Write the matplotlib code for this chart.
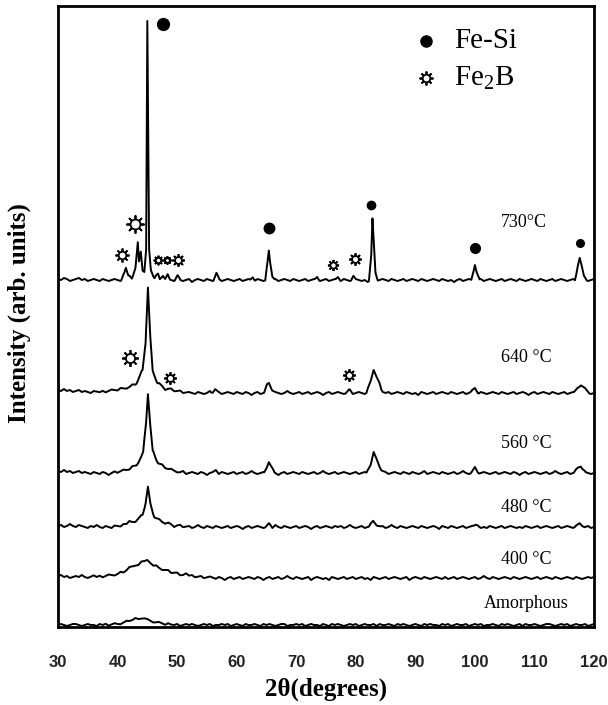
import numpy as np
import matplotlib
matplotlib.use("Agg")
import matplotlib.pyplot as plt

plt.rcParams['mathtext.fontset'] = 'custom'
plt.rcParams['mathtext.rm'] = 'Liberation Serif'

# 2theta sampling of the background noise, every 0.5 deg
grid = np.arange(30, 120.51, 0.5)

# baseline level of each trace (intensity, arb. units)
base_amorph = 2
base_400 = 49
base_480 = 100
base_560 = 154
base_640 = 234
base_730 = 347

# background noise (one value per grid point)
noise_amorph = [0,1,0,-1,0,1,1,0,-1,0,1,0,0,-1,1,0,1,-1,0,1,
                0,-1,0,1,0,0,1,-1,0,1,1,0,-1,0,1,0,-1,1,0,0,
                1,-1,0,1,0,1,0,-1,0,1,0,1,-1,0,0,1,0,1,-1,0,
                1,0,-1,1,0,0,1,0,-1,1,0,1,0,-1,0,1,1,-1,0,0,
                1,0,1,-1,0,1,0,0,-1,1,0,-1,1,0,1,0,-1,0,1,0,
                1,-1,0,1,0,0,1,-1,1,0,0,1,0,-1,1,0,1,0,-1,0,
                1,0,-1,1,0,1,0,0,-1,1,0,1,-1,0,1,0,0,1,-1,0,
                1,0,1,-1,0,0,1,0,-1,1,0,1,0,-1,0,1,-1,1,0,0,
                1,0,-1,0,1,1,0,-1,0,1,0,1,-1,0,1,0,0,1,-1,0,
                1,0]
noise_400 = [2,3,1,2,0,1,2,1,3,1,0,1,2,0,1,-1,0,1,0,-1,
             0,1,-1,0,2,1,0,-1,1,0,2,0,-1,1,0,-1,0,1,-1,0,
             1,-1,0,2,0,1,-1,0,1,-1,0,1,0,-1,1,0,-2,0,1,-1,
             0,1,-1,0,1,0,-1,1,0,-2,0,1,-1,0,1,-1,0,2,0,-1,
             1,0,-1,0,1,-2,0,1,0,-1,0,-2,1,0,-1,0,1,-1,0,1,
             -1,0,1,-1,0,-2,1,0,-1,0,1,-1,0,1,0,-1,0,1,-2,0,
             1,0,-1,1,0,-1,0,1,0,-1,1,-1,0,1,-1,0,1,0,-1,0,
             1,-1,0,2,0,-1,1,0,-1,0,1,0,-1,1,0,-1,0,1,0,-1,
             0,1,-1,0,1,0,-1,1,0,-1,0,1,0,-1,1,0,-1,0,1,0,
             1,0]
noise_480 = [1,2,0,1,3,1,0,2,1,0,-1,1,0,2,0,-1,1,0,-1,1,
             0,-1,1,0,2,0,-1,0,1,-1,0,2,-1,0,1,0,-1,1,0,-2,
             0,1,-1,0,1,-1,0,2,0,-1,1,0,-1,1,0,-1,0,1,-1,0,
             1,0,-2,0,1,-1,0,1,0,-1,0,1,-1,2,0,-1,1,0,-1,0,
             1,-1,0,1,0,-2,0,1,-1,0,1,0,-1,1,0,1,-1,0,2,0,
             -1,0,1,-1,0,1,0,-1,0,1,-1,0,2,0,-1,1,0,-1,0,1,
             0,-1,1,0,-1,0,1,0,-2,1,0,-1,1,0,-1,0,1,-1,0,1,
             0,1,-1,0,-1,1,0,-1,0,1,-1,0,1,0,-1,0,-1,1,0,-1,
             0,1,-1,0,1,0,-1,0,1,-1,0,1,0,-1,1,0,-1,0,1,-1,
             0,1]
noise_560 = [2,1,3,1,2,0,1,2,0,1,0,-1,1,0,-1,1,0,-2,0,1,
             -1,0,1,0,-1,1,0,-1,0,2,0,-1,1,-1,0,1,-1,0,1,0,
             -1,0,2,-1,0,1,0,-1,1,0,-2,0,1,0,-1,1,0,-1,0,1,
             -1,0,1,-1,0,2,0,-1,0,1,-1,0,1,0,-2,0,1,-1,0,1,
             0,-1,1,0,-1,0,1,-1,0,2,0,-1,0,1,-1,0,1,0,-1,0,
             1,-1,0,1,0,-2,1,0,-1,0,1,-1,0,1,0,-1,1,0,-1,1,
             0,-1,0,2,-1,0,1,0,-1,1,0,-1,0,1,-1,0,2,0,-1,0,
             1,-1,0,1,0,-1,0,1,-1,0,1,0,-1,1,0,-2,0,1,-1,0,
             1,0,-1,0,1,-1,0,2,0,-1,0,1,-1,0,1,0,-1,1,0,-1,
             0,1]
noise_640 = [3,2,4,2,3,1,2,3,1,2,1,0,2,1,0,1,-1,0,1,0,
             -1,1,0,-1,0,1,-1,0,2,0,-1,1,0,-1,1,0,-2,0,1,-1,
             0,1,-1,0,1,0,-1,1,0,-1,0,2,-1,0,1,-1,0,1,0,-1,
             1,0,-1,1,0,-2,0,1,-1,0,1,0,-1,1,0,-1,0,2,0,-1,
             0,1,-1,0,1,-1,0,1,0,-2,0,1,-1,0,1,0,-1,0,1,-1,
             0,1,0,-1,1,0,-1,0,2,-1,0,1,-1,0,1,0,-1,1,0,-1,
             0,-2,1,0,-1,0,1,-1,0,1,0,-1,1,0,-1,0,1,-1,0,2,
             0,-1,1,0,-1,0,1,0,-1,1,0,-1,0,1,-1,0,1,0,-2,0,
             1,-1,0,1,0,-1,1,0,-1,0,1,-1,0,1,0,-1,0,1,0,-1,
             0,1]
noise_730 = [1,0,2,1,-1,0,1,2,0,1,-1,0,1,0,-1,1,0,-1,0,1,
             0,-1,1,0,1,-1,0,1,-1,0,1,0,-1,1,0,-1,0,1,0,-1,
             1,0,-1,0,1,-2,0,1,0,-1,1,0,-1,0,1,-1,0,1,0,-1,
             0,1,-1,0,1,0,-1,1,0,-1,0,-2,0,1,-1,0,1,0,-1,1,
             0,-1,0,1,-1,0,1,0,-1,0,1,-1,0,1,0,-1,1,0,-1,0,
             1,0,-1,0,-2,0,1,-1,0,1,0,-1,1,0,-1,0,1,-1,0,1,
             0,-1,1,0,-1,0,1,0,-1,1,0,-1,0,-2,0,1,-1,0,1,0,
             -1,0,1,-1,0,1,0,-1,0,1,-1,0,1,0,-1,1,0,-1,0,1,
             0,-1,1,0,-1,0,1,-1,0,1,0,-1,0,1,-1,0,1,0,-1,0,
             1,0]

# reflections: (2theta, height above baseline)
peaks_amorph = [(37.5,0),(40,1),(42,4),(43.5,7),(45,5),(47,2),(49.5,0)]
peaks_400 = [(35,0),(38,2),(40,4),(42,9),(43.5,14),(44.5,17),(45.5,15),
             (47,10),(49,6),(51,3),(54,1),(57,0)]
peaks_480 = [(39,0),(41,2),(43,6),(44.2,12),(44.7,24),(45.1,40),(45.5,22),
             (46.2,10),(47.5,5),(49.5,2),(52,0),
             (64.8,0),(65.4,3),(66,0),
             (82.2,0),(82.9,6),(83.6,2),(84.3,0),
             (99.5,0),(100.1,2),(100.7,0),
             (116.9,0),(117.6,4),(118.4,0)]
peaks_560 = [(39,0),(41.5,3),(43.2,8),(44.3,20),(44.8,50),(45.1,79),(45.4,55),
             (45.9,22),(46.8,10),(48.5,4),(51,0),
             (56,0),(56.5,3),(57,0),
             (64.6,0),(65.1,7),(65.4,11),(65.8,6),(66.4,0),
             (81.8,0),(82.5,10),(83,20),(83.5,14),(84.3,3),(85,0),
             (99.3,0),(100,5),(100.7,0),
             (116.6,0),(117.3,5),(117.8,7),(118.6,0)]
peaks_640 = [(36,0),(38.5,2),(40.5,4),(42,6),(43.2,10),(44.2,22),(44.7,50),
             (45.1,106),(45.5,55),(45.9,22),(46.7,10),(48,5),(50,2),(52,0),
             (55.8,0),(56.4,4),(57,0),
             (64.6,0),(65.1,8),(65.4,10),(65.9,4),(66.5,0),
             (78.3,0),(78.9,3),(79.5,0),
             (81.8,0),(82.5,12),(83,24),(83.5,16),(84.3,3),(85,0),
             (99.4,0),(100,5),(100.6,0),
             (116.6,0),(117.3,6),(117.8,8),(118.5,4),(119.2,0)]
peaks_730 = [(40.6,0),(41.1,6),(41.4,12),(41.8,4),(42.4,2),(43.0,12),(43.4,37),
             (43.6,18),(43.9,29),(44.2,10),(44.5,8),(44.8,30),(45.0,258),
             (45.3,30),(45.6,10),(45.9,6),(46.2,2),(46.8,6),(47.1,1),(47.6,5),
             (48,1),(48.4,5),(48.8,0),
             (49.6,0),(50.1,4),(50.6,0),
             (56.1,0),(56.6,7),(57.1,0),
             (62.3,0),(62.7,3),(63.1,0),
             (64.8,0),(65.2,20),(65.4,31),(65.6,20),(66.0,3),(66.4,0),
             (73.1,0),(73.5,3),(73.9,0),
             (76.6,0),(77.0,3),(77.4,0),
             (79.2,0),(79.6,4),(80.0,0),
             (82.2,0),(82.6,25),(82.8,61),(83.0,40),(83.3,8),(83.7,0),
             (99.4,0),(99.8,10),(100.0,16),(100.3,8),(100.8,0),
             (116.8,0),(117.3,15),(117.6,22),(117.9,14),(118.3,4),(118.8,0)]

# phase markers: (2theta, intensity, size)
fesi_marks = [(47.6,603,8.5),(65.4,399,7.5),(82.6,422,6),(100.05,379,7),(117.6,384,5.5)]
fe2b_marks = [(40.7,372,10),(42.9,403,13),(46.8,367,7),(48.3,367,6),(50.1,367,9),
              (76.1,362,8),(79.8,368,9),
              (42.1,269,12),(48.8,249,9),(78.9,252,9)]

# sample labels: (text, 2theta of left edge, intensity)
labels = [("730°C",104.4,404),("640 °C",104.4,269),("560 °C",104.4,183),
          ("480 °C",104.4,119),("400 °C",104.4,68),("Amorphous",101.5,23)]


def trace(base, noise, peaks):
    px, py = zip(*peaks)
    x = np.union1d(grid, px)
    y = base + np.interp(x, grid, noise) + np.interp(x, px, py, left=0, right=0)
    return x, y


def sun(ax, x, y, s):
    # Fe2B symbol: open ring with rays
    ax.plot(x, y, marker=(8, 2, 0), markersize=s, color='black', mew=1.3)
    ax.plot(x, y, 'o', markersize=s*0.55, mfc='white', mec='black', mew=1.3)


fig = plt.figure(figsize=(6.08, 7.05), dpi=100)
ax = fig.add_axes([58/608, 1-627/705, (594-58)/608, (627-6)/705])

for base, noise, peaks in [(base_amorph, noise_amorph, peaks_amorph),
                           (base_400, noise_400, peaks_400),
                           (base_480, noise_480, peaks_480),
                           (base_560, noise_560, peaks_560),
                           (base_640, noise_640, peaks_640),
                           (base_730, noise_730, peaks_730)]:
    x, y = trace(base, noise, peaks)
    ax.plot(x, y, color='black', linewidth=1.4)

for x, y, s in fesi_marks:
    ax.plot(x, y, 'o', color='black', markersize=s)
for x, y, s in fe2b_marks:
    sun(ax, x, y, s)

for txt, x, y in labels:
    ax.text(x, y, txt, fontsize=13, family='Liberation Serif', va='center', ha='left')

# legend
ax.plot(91.8, 586, 'o', color='black', markersize=8)
sun(ax, 91.8, 549, 10)
ax.text(96.5, 586, 'Fe-Si', fontsize=21, family='Liberation Serif', va='center')
ax.text(96.5, 549, 'Fe$_\\mathregular{2}$B', fontsize=21, family='Liberation Serif', va='center')

ax.set_xlim(30, 120)
ax.set_ylim(0, 621)
ax.set_xticks(range(30, 121, 10))
ax.set_yticks([])
ax.tick_params(axis='x', length=0, pad=20)
for lab in ax.get_xticklabels():
    lab.set_fontfamily('Liberation Sans')
    lab.set_fontweight('bold')
    lab.set_fontsize(12)
    lab.set_color('#222222')
for sp in ax.spines.values():
    sp.set_linewidth(2)

fig.text(326/608, 1-689/705, '2θ(degrees)', fontsize=18, fontweight='bold',
         family='Liberation Serif', ha='center', va='center')
fig.text(19/608, 1-313/705, 'Intensity (arb. units)', fontsize=18, fontweight='bold',
         family='Liberation Serif', ha='center', va='center', rotation=90)

fig.savefig('out.png', dpi=100)
